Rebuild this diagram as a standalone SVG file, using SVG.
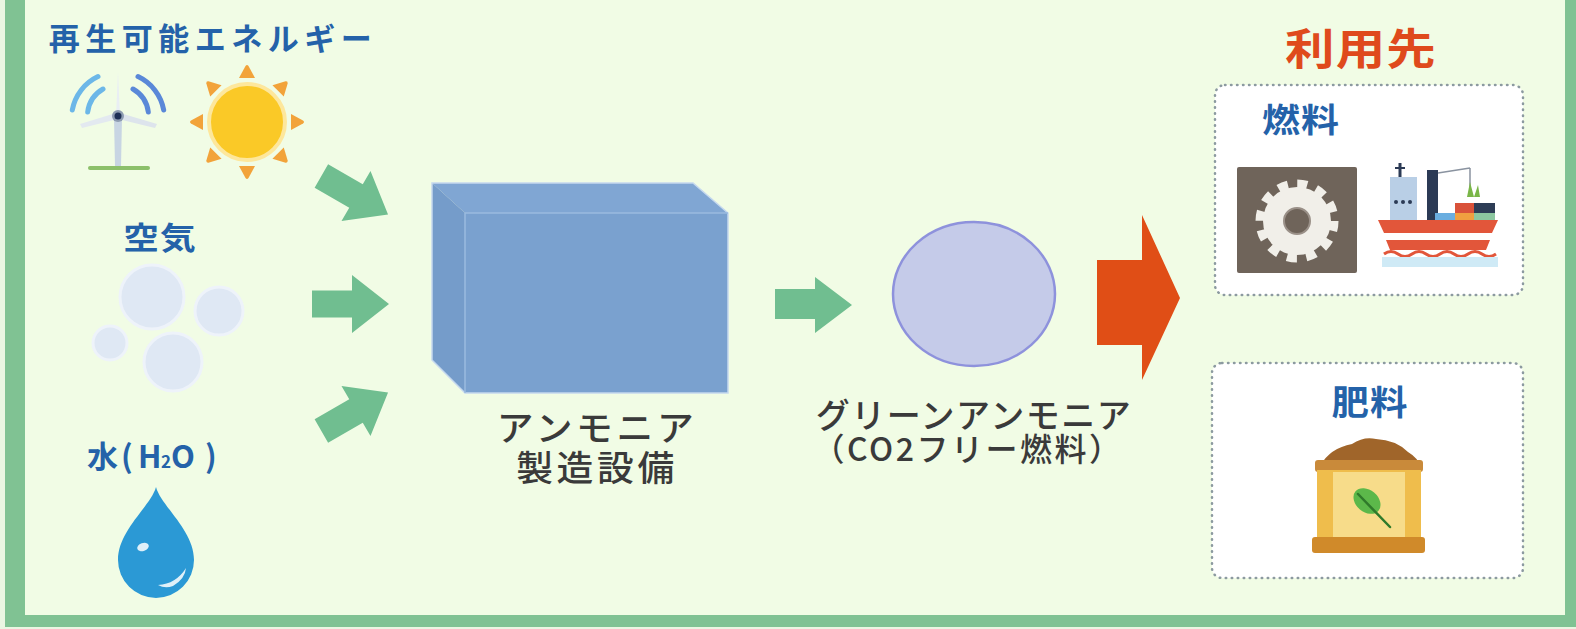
<svg xmlns="http://www.w3.org/2000/svg" width="1576" height="629" viewBox="0 0 1576 629">
  <style>
    text { font-family: "Noto Sans CJK JP", "Noto Sans", sans-serif; }
    .blue { font-weight: 700; fill: #2462a9; }
    .dark { font-weight: 500; fill: #3a3a3a; }
    .red { font-weight: 700; fill: #df4a1c; }
    .flow { fill: #70be90; }
    .dotbox { fill: #ffffff; stroke: #8c9aa0; stroke-width: 2.5; stroke-dasharray: 0.5 5.5; stroke-linecap: round; }
    .cloud { fill: #dfe8f4; stroke: #eef3fa; stroke-width: 3; }
  </style>
  <defs>
    <!-- block arrow, origin at the middle of the head base -->
    <path id="blockArrow" d="M-40,-13.5 L0,-13.5 L0,-29 L37,0 L0,29 L0,13.5 L-40,13.5 Z"/>
    <!-- sun ray, pointing up from origin -->
    <path id="ray" d="M-8,-44 L8,-44 L1.5,-56 Q0,-58 -1.5,-56 Z"/>
  </defs>

  <!-- panel -->
  <rect x="0" y="0" width="1576" height="629" fill="#eaf6e2"/>
  <rect x="25" y="0" width="1540" height="615" fill="#f1fce5"/>
  <g fill="#80c293">
    <rect x="5" y="0" width="20" height="627"/>
    <rect x="5" y="615" width="1571" height="12"/>
    <rect x="1565" y="0" width="11" height="627"/>
  </g>

  <!-- renewable energy -->
  <g id="renewable">
    <text class="blue" x="213" y="50" font-size="31" letter-spacing="5.5" text-anchor="middle">再生可能エネルギー</text>
    <!-- wind turbine -->
    <g fill="none" stroke-width="5" stroke-linecap="round">
      <path d="M72.3,110 A46,46 0 0 1 98,76.6" stroke="#6cb7e8"/>
      <path d="M87.7,112 A31,31 0 0 1 103,89" stroke="#6cb7e8"/>
      <path d="M138,76.6 A46,46 0 0 1 163.7,110" stroke="#5a88d8"/>
      <path d="M133,89 A31,31 0 0 1 148.3,112" stroke="#5a88d8"/>
    </g>
    <path d="M114,118 L122,118 L121,166 L115,166 Z" fill="#c8d5e3"/>
    <path d="M116,116 L118,72 L120,116 Z" fill="#e9eef4"/>
    <path d="M116,113 L80,124 L82,128 L118,119 Z" fill="#e3e9f0"/>
    <path d="M120,113 L157,124 L155,128 L118,119 Z" fill="#dde4ec"/>
    <circle cx="118" cy="116" r="6" fill="#8d9bb0"/>
    <circle cx="118" cy="116" r="3.5" fill="#1d2f55"/>
    <rect x="88" y="166" width="62" height="4" rx="2" fill="#8cc06a"/>
    <!-- sun -->
    <g transform="translate(247,122)" fill="#f2a33a">
      <use href="#ray"/>
      <use href="#ray" transform="rotate(45)"/>
      <use href="#ray" transform="rotate(90)"/>
      <use href="#ray" transform="rotate(135)"/>
      <use href="#ray" transform="rotate(180)"/>
      <use href="#ray" transform="rotate(225)"/>
      <use href="#ray" transform="rotate(270)"/>
      <use href="#ray" transform="rotate(315)"/>
      <circle r="38" fill="#fac927" stroke="#fde79c" stroke-width="4"/>
    </g>
  </g>

  <!-- air -->
  <g id="air">
    <text class="blue" transform="translate(160,249) scale(1.15,1)" font-size="31" letter-spacing="1" text-anchor="middle">空気</text>
    <circle class="cloud" cx="152" cy="297" r="32"/>
    <circle class="cloud" cx="219" cy="311" r="24"/>
    <circle class="cloud" cx="110" cy="343" r="17"/>
    <circle class="cloud" cx="173" cy="362" r="29"/>
  </g>

  <!-- water -->
  <g id="water">
    <text class="blue" y="468" font-size="31"><tspan x="87">水</tspan><tspan x="121">(</tspan><tspan x="138">H</tspan><tspan x="161" font-size="17">2</tspan><tspan x="171">O</tspan><tspan x="205">)</tspan></text>
    <path d="M156,487 C151,506 118,530 118,560 A38,38 0 0 0 194,560 C194,530 161,506 156,487 Z" fill="#2b99d5"/>
    <ellipse cx="143" cy="547" rx="6" ry="4" transform="rotate(-20 143 547)" fill="#ffffff" opacity="0.85"/>
    <path d="M158,585 Q176,584 186,568 Q185,579 173,586 Q165,589 158,585 Z" fill="#ffffff" opacity="0.85"/>
  </g>

  <!-- ammonia plant -->
  <g id="plant">
    <path d="M432,183 L693,183 L728,213 L465,213 Z" fill="#80a6d3"/>
    <path d="M432,183 L465,213 L465,393 L432,360 Z" fill="#759cca"/>
    <rect x="465" y="213" width="263" height="180" fill="#7aa1cf"/>
    <path d="M432,183 L693,183 L728,213 L728,393 L465,393 L432,360 Z" fill="none" stroke="#c5d8ee" stroke-width="1.5"/>
    <path d="M465,213 L728,213 M465,213 L465,393" stroke="#9bbbe0" stroke-width="1.5"/>
    <text class="dark" transform="translate(597,0) scale(1.05,1)" font-size="35" letter-spacing="3.5" text-anchor="middle"><tspan x="0" y="441">アンモニア</tspan><tspan x="0" y="481">製造設備</tspan></text>
  </g>

  <!-- green ammonia -->
  <g id="product">
    <ellipse cx="974" cy="294" rx="81" ry="72" fill="#c5cbe9" stroke="#8e92dc" stroke-width="2.5"/>
    <text class="dark" text-anchor="middle"><tspan x="974" y="428" font-size="34" letter-spacing="1.5">グリーンアンモニア</tspan><tspan x="968" y="461" font-size="32" letter-spacing="2.5">（CO2フリー燃料）</tspan></text>
  </g>

  <!-- uses -->
  <g id="uses-title">
    <text class="red" transform="translate(1361,65) scale(1.15,1)" font-size="43" letter-spacing="1" text-anchor="middle">利用先</text>
  </g>

  <g id="fuel">
    <rect class="dotbox" x="1215" y="85" width="308" height="210" rx="10"/>
    <text class="blue" transform="translate(1301,132) scale(1.15,1)" font-size="33" letter-spacing="1" text-anchor="middle">燃料</text>
    <!-- engine -->
    <rect x="1237" y="167" width="120" height="106" rx="2" fill="#6f645a"/>
    <circle cx="1297" cy="221" r="37" fill="none" stroke="#f1efe9" stroke-width="9" stroke-dasharray="10 9.37"/>
    <circle cx="1297" cy="221" r="34" fill="#f1efe9"/>
    <circle cx="1297" cy="221" r="13" fill="#6f645a" stroke="#9a9088" stroke-width="2"/>
    <!-- ship -->
    <path d="M1400,163 L1400,177" stroke="#2b3a55" stroke-width="3"/>
    <path d="M1395,168 L1405,168" stroke="#2b3a55" stroke-width="2"/>
    <rect x="1390" y="177" width="27" height="43" fill="#b9cfe6"/>
    <g fill="#2b3a55">
      <circle cx="1396" cy="202" r="2"/>
      <circle cx="1403" cy="202" r="2"/>
      <circle cx="1410" cy="202" r="2"/>
    </g>
    <rect x="1427" y="170" width="11" height="53" fill="#2b3a55"/>
    <path d="M1438,173 L1470,168 M1470,168 L1470,196" stroke="#8a93a0" stroke-width="1.5" fill="none"/>
    <path d="M1467,197 L1470,182 L1474,197 L1478,185 L1480,197 Z" fill="#7ab648"/>
    <rect x="1435" y="213" width="20" height="9" fill="#6aaee0"/>
    <rect x="1455" y="203" width="19" height="10" fill="#d9523a"/>
    <rect x="1474" y="203" width="21" height="10" fill="#2d3d56"/>
    <rect x="1455" y="213" width="19" height="9" fill="#f0a040"/>
    <rect x="1474" y="213" width="21" height="9" fill="#8cc7a0"/>
    <path d="M1378,220 L1498,220 L1492,233 L1384,233 Z" fill="#e2563a"/>
    <path d="M1384,233 L1492,233 L1490,240 L1386,240 Z" fill="#ffffff"/>
    <path d="M1386,240 L1490,240 L1486,250 L1390,250 Z" fill="#e2563a"/>
    <path d="M1384,254 Q1391,249 1398,254 T1412,254 T1426,254 T1440,254 T1454,254 T1468,254 T1482,254 T1496,254" fill="none" stroke="#e2563a" stroke-width="3"/>
    <rect x="1382" y="257" width="116" height="10" fill="#cfeaf6"/>
  </g>

  <g id="fertilizer">
    <rect class="dotbox" x="1212" y="363" width="311" height="215" rx="10"/>
    <text class="blue" transform="translate(1370,415) scale(1.1,1)" font-size="34" letter-spacing="1" text-anchor="middle">肥料</text>
    <!-- sack -->
    <path d="M1320,466 Q1330,448 1352,444 Q1364,436 1376,439 Q1396,440 1408,452 Q1418,458 1420,466 Z" fill="#a0652a"/>
    <rect x="1315" y="460" width="108" height="12" rx="3" fill="#c98a3a"/>
    <rect x="1317" y="470" width="104" height="70" fill="#efbd4c"/>
    <rect x="1333" y="472" width="72" height="66" fill="#f7dc8a"/>
    <rect x="1312" y="537" width="113" height="16" rx="3" fill="#d08a2a"/>
    <ellipse cx="1367" cy="501" rx="15" ry="11" transform="rotate(40 1367 501)" fill="#5cb84a"/>
    <path d="M1358,494 L1390,527" stroke="#2f7a2a" stroke-width="2.5" stroke-linecap="round"/>
  </g>

  <!-- connectors -->
  <g id="connectors">
    <use href="#blockArrow" class="flow" transform="translate(356,196) rotate(30)"/>
    <use href="#blockArrow" class="flow" transform="translate(352,304)"/>
    <use href="#blockArrow" class="flow" transform="translate(356,411) rotate(-30)"/>
    <path class="flow" d="M775,289 L815,289 L815,277 L852,305 L815,333 L815,319 L775,319 Z"/>
    <path d="M1097,260 L1142,260 L1142,215 L1180,298 L1142,380 L1142,345 L1097,345 Z" fill="#e04e16"/>
  </g>
</svg>
